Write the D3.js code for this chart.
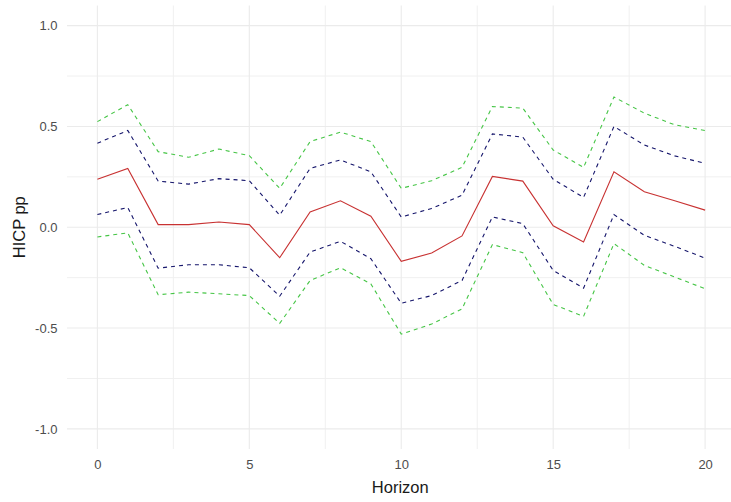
<!DOCTYPE html>
<html>
<head>
<meta charset="utf-8">
<script src="https://cdn.jsdelivr.net/npm/d3@7"></script>
<style>
  html, body { margin: 0; padding: 0; background: #ffffff; }
  svg { display: block; font-family: "Liberation Sans", Arial, sans-serif; }
</style>
</head>
<body>
<svg id="chart" width="731" height="502"></svg>
<script>
// ---- data ----
const horizon = d3.range(0, 21);
const irf      = [0.238,0.292,0.013,0.013,0.026,0.013,-0.151,0.076,0.131,0.055,-0.169,-0.128,-0.043,0.252,0.229,0.007,-0.073,0.275,0.176,0.131,0.085];
const upper68  = [0.417,0.480,0.229,0.214,0.241,0.231,0.060,0.292,0.334,0.275,0.051,0.093,0.159,0.463,0.447,0.238,0.148,0.500,0.408,0.354,0.317];
const lower68  = [0.063,0.098,-0.203,-0.186,-0.186,-0.201,-0.342,-0.123,-0.070,-0.156,-0.377,-0.339,-0.264,0.051,0.018,-0.214,-0.302,0.063,-0.040,-0.095,-0.153];
const upper90  = [0.524,0.608,0.375,0.347,0.388,0.355,0.193,0.425,0.472,0.425,0.193,0.231,0.297,0.599,0.591,0.383,0.297,0.646,0.566,0.508,0.480];
const lower90  = [-0.048,-0.028,-0.335,-0.322,-0.330,-0.339,-0.477,-0.264,-0.201,-0.281,-0.530,-0.480,-0.405,-0.086,-0.126,-0.383,-0.442,-0.081,-0.189,-0.247,-0.305];
const xTicks = [0, 5, 10, 15, 20];
const xMinor = [2.5, 7.5, 12.5, 17.5];
const yTicks = [-1.0, -0.5, 0.0, 0.5, 1.0];
const yMinor = [-0.75, -0.25, 0.25, 0.75];
const xTitle = "Horizon";
const yTitle = "HICP pp";

// ---- layout ----
const svg = d3.select("#chart");
const panel = { left: 67, right: 735.5, top: 5.5, bottom: 449 };
const x = d3.scaleLinear().domain([-1, 21]).range([panel.left, panel.right]);
const y = d3.scaleLinear().domain([-1.1, 1.1]).range([panel.bottom, panel.top]);

const grid = svg.append("g");
grid.selectAll("line.hminor").data(yMinor).join("line")
  .attr("x1", panel.left).attr("x2", panel.right)
  .attr("y1", d => y(d)).attr("y2", d => y(d))
  .attr("stroke", "#f0f0f0").attr("stroke-width", 1);
grid.selectAll("line.vminor").data(xMinor).join("line")
  .attr("y1", panel.top).attr("y2", panel.bottom)
  .attr("x1", d => x(d)).attr("x2", d => x(d))
  .attr("stroke", "#f0f0f0").attr("stroke-width", 1);
grid.selectAll("line.hmajor").data(yTicks).join("line")
  .attr("x1", panel.left).attr("x2", panel.right)
  .attr("y1", d => y(d)).attr("y2", d => y(d))
  .attr("stroke", "#ebebeb").attr("stroke-width", 1.1);
grid.selectAll("line.vmajor").data(xTicks).join("line")
  .attr("y1", panel.top).attr("y2", panel.bottom)
  .attr("x1", d => x(d)).attr("x2", d => x(d))
  .attr("stroke", "#ebebeb").attr("stroke-width", 1.1);

// axes (text only, ggplot theme_minimal style)
const xAxis = svg.append("g").attr("transform", `translate(0,${panel.bottom})`)
  .call(d3.axisBottom(x).tickValues(xTicks).tickSize(0).tickPadding(11).tickFormat(d3.format("d")));
const yAxis = svg.append("g").attr("transform", `translate(${panel.left},0)`)
  .call(d3.axisLeft(y).tickValues(yTicks).tickSize(0).tickPadding(9.5).tickFormat(d3.format(".1f")));
[xAxis, yAxis].forEach(a => {
  a.select(".domain").remove();
  a.selectAll("text").attr("fill", "#4d4d4d").style("font-size", "13px")
    .style("font-family", "'Liberation Sans', Arial, sans-serif");
});
yAxis.selectAll("text").text(d => d3.format(".1f")(d).replace("−", "-"));

// titles
svg.append("text").attr("x", (panel.left + 735.5) / 2 - 1).attr("y", 493)
  .attr("text-anchor", "middle").attr("fill", "#1a1a1a").style("font-size", "16.5px")
  .text(xTitle);
svg.append("text").attr("transform", `translate(25,${(panel.top + panel.bottom) / 2}) rotate(-90)`)
  .attr("text-anchor", "middle").attr("fill", "#1a1a1a").style("font-size", "16.5px")
  .text(yTitle);

// lines
const line = d3.line().x((d, i) => x(horizon[i])).y(d => y(d));
const series = [
  { v: upper90, color: "#45c545", dash: "4,4" },
  { v: lower90, color: "#45c545", dash: "4,4" },
  { v: upper68, color: "#15156b", dash: "4,4" },
  { v: lower68, color: "#15156b", dash: "4,4" },
  { v: irf,     color: "#c83232", dash: null }
];
svg.append("g").selectAll("path").data(series).join("path")
  .attr("d", d => line(d.v))
  .attr("fill", "none")
  .attr("stroke", d => d.color)
  .attr("stroke-width", 1.1)
  .attr("stroke-dasharray", d => d.dash);
</script>
</body>
</html>
